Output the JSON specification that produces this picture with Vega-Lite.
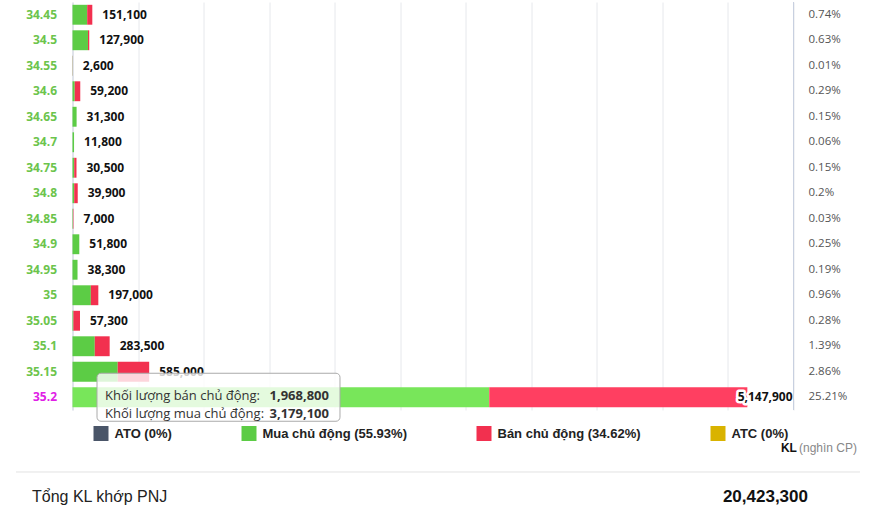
{
  "$schema": "https://vega.github.io/schema/vega-lite/v6.json",
  "background": "white",
  "padding": {"left": 14.5, "top": 1, "right": 0, "bottom": 0},
  "autosize": {"type": "pad"},
  "bounds": "flush",
  "spacing": 11,
  "config": {"view": {"stroke": null}, "font": "Open Sans"},
  "datasets": {
    "rows": [
      {"price": "34.45", "mua": 112100, "ban": 39000, "total": 151100, "pct": 0.0074},
      {"price": "34.5", "mua": 118000, "ban": 9900, "total": 127900, "pct": 0.0063},
      {"price": "34.55", "mua": 1600, "ban": 1000, "total": 2600, "pct": 0.0001},
      {"price": "34.6", "mua": 17000, "ban": 42200, "total": 59200, "pct": 0.0029},
      {"price": "34.65", "mua": 31300, "ban": 0, "total": 31300, "pct": 0.0015},
      {"price": "34.7", "mua": 11800, "ban": 0, "total": 11800, "pct": 0.0006},
      {"price": "34.75", "mua": 13000, "ban": 17500, "total": 30500, "pct": 0.0015},
      {"price": "34.8", "mua": 13000, "ban": 26900, "total": 39900, "pct": 0.002},
      {"price": "34.85", "mua": 3500, "ban": 3500, "total": 7000, "pct": 0.0003},
      {"price": "34.9", "mua": 51800, "ban": 0, "total": 51800, "pct": 0.0025},
      {"price": "34.95", "mua": 38300, "ban": 0, "total": 38300, "pct": 0.0019},
      {"price": "35", "mua": 140000, "ban": 57000, "total": 197000, "pct": 0.0096},
      {"price": "35.05", "mua": 7000, "ban": 50300, "total": 57300, "pct": 0.0028},
      {"price": "35.1", "mua": 170000, "ban": 113500, "total": 283500, "pct": 0.0139},
      {"price": "35.15", "mua": 345000, "ban": 240000, "total": 585000, "pct": 0.0286},
      {"price": "35.2", "mua": 3179100, "ban": 1968800, "total": 5147900, "pct": 0.2521}
    ],
    "tip": [
      {"price": "35.2", "labels": ["Khối lượng bán chủ động:", "Khối lượng mua chủ động:"], "values": ["1,968,800", "3,179,100"]}
    ],
    "footer": [
      {"title": "Tổng KL khớp PNJ", "total": 20423300, "unit": "KL", "unitNote": "(nghìn CP)"}
    ]
  },
  "resolve": {"scale": {"x": "independent", "y": "independent"}},
  "vconcat": [
    {
      "width": 721,
      "height": 408,
      "data": {"name": "rows"},
      "layer": [
        {
          "mark": {"type": "bar", "height": {"band": 0.78}},
          "encoding": {
            "y": {"field": "price", "type": "nominal", "sort": null, "scale": {"paddingInner": 0, "paddingOuter": 0},
              "axis": {"title": null, "ticks": false, "labelPadding": 16, "domainColor": "#cdd4e0", "labelFont": "Open Sans", "labelFontSize": 12, "labelFontWeight": "bold",
                "labelColor": {"condition": {"test": "datum.value === '35.2'", "value": "#e020e6"}, "value": "#6cc44c"}}},
            "x": {"field": "mua", "type": "quantitative", "scale": {"domain": [0, 5500000], "nice": false},
              "axis": {"title": null, "labels": false, "ticks": false, "domain": false, "grid": true, "gridColor": "#e6e8ec",
                "values": [0, 500000, 1000000, 1500000, 2000000, 2500000, 3000000, 3500000, 4000000, 4500000, 5000000, 5500000]}},
            "color": {
              "condition": {"test": "datum.price === '35.2'", "value": "#78e65a"},
              "datum": "Mua chủ động", "type": "nominal",
              "scale": {"domain": ["ATO", "Mua chủ động", "Bán chủ động", "ATC"], "range": ["#4a5568", "#5ccc45", "#f2304f", "#d9b300"]},
              "legend": {
                "orient": "none", "legendX": 21, "legendY": 424, "direction": "horizontal", "title": null,
                "symbolType": "square", "symbolSize": 225, "symbolStrokeWidth": 0, "symbolOpacity": 1,
                "labelFont": "Liberation Sans", "labelFontSize": 13, "labelFontWeight": "bold", "labelColor": "#222",
                "labelOffset": 6, "columnPadding": 69, "labelLimit": 300,
                "labelExpr": "datum.label === 'ATO' ? 'ATO (0%)' : datum.label === 'Mua chủ động' ? 'Mua chủ động (55.93%)' : datum.label === 'Bán chủ động' ? 'Bán chủ động (34.62%)' : 'ATC (0%)'"
              }
            }
          }
        },
        {
          "mark": {"type": "bar", "height": {"band": 0.78}},
          "encoding": {
            "y": {"field": "price", "type": "nominal", "sort": null},
            "x": {"field": "mua", "type": "quantitative"},
            "x2": {"field": "total"},
            "color": {
              "condition": {"test": "datum.price === '35.2'", "value": "#ff3f61"},
              "datum": "Bán chủ động", "type": "nominal"
            }
          }
        },
        {
          "transform": [{"filter": "datum.total < 5000000"}],
          "mark": {"type": "text", "align": "left", "baseline": "middle", "dx": 10, "font": "Open Sans", "fontSize": 12, "fontWeight": "bold", "color": "#111"},
          "encoding": {
            "y": {"field": "price", "type": "nominal", "sort": null},
            "x": {"field": "total", "type": "quantitative"},
            "text": {"field": "total", "type": "quantitative", "format": ","}
          }
        },
        {
          "transform": [{"filter": "datum.total >= 5000000"}],
          "mark": {"type": "text", "align": "right", "baseline": "middle", "dx": -1, "font": "Open Sans", "fontSize": 12, "fontWeight": "bold", "color": "white", "stroke": "white", "strokeWidth": 5, "strokeJoin": "round"},
          "encoding": {
            "y": {"field": "price", "type": "nominal", "sort": null},
            "x": {"datum": 5500000, "type": "quantitative"},
            "text": {"field": "total", "type": "quantitative", "format": ","}
          }
        },
        {
          "transform": [{"filter": "datum.total >= 5000000"}],
          "mark": {"type": "text", "align": "right", "baseline": "middle", "dx": -1, "font": "Open Sans", "fontSize": 12, "fontWeight": "bold", "color": "#111"},
          "encoding": {
            "y": {"field": "price", "type": "nominal", "sort": null},
            "x": {"datum": 5500000, "type": "quantitative"},
            "text": {"field": "total", "type": "quantitative", "format": ","}
          }
        },
        {
          "mark": {"type": "text", "align": "left", "baseline": "middle", "dx": 15, "font": "Open Sans", "fontSize": 11.5, "color": "#555"},
          "encoding": {
            "y": {"field": "price", "type": "nominal", "sort": null},
            "x": {"datum": 5500000, "type": "quantitative"},
            "text": {"field": "pct", "type": "quantitative", "format": ".2~%"}
          }
        },
        {
          "mark": {"type": "rule", "color": "#c8d0e0", "strokeWidth": 1},
          "encoding": {"x": {"datum": 5500000, "type": "quantitative"}}
        },
        {
          "data": {"name": "tip"},
          "mark": {"type": "bar", "height": 48, "fill": "white", "fillOpacity": 0.8, "stroke": "#aaaaaa", "strokeWidth": 1, "cornerRadius": 4},
          "encoding": {
            "y": {"field": "price", "type": "nominal", "sort": null},
            "x": {"datum": 186900, "type": "quantitative"},
            "x2": {"datum": 2040500}
          }
        },
        {
          "data": {"name": "tip"},
          "mark": {"type": "text", "align": "left", "baseline": "middle", "lineHeight": 18, "dy": -1, "font": "Open Sans", "fontSize": 13, "color": "#333"},
          "encoding": {
            "y": {"field": "price", "type": "nominal", "sort": null},
            "x": {"datum": 247900, "type": "quantitative"},
            "text": {"field": "labels"}
          }
        },
        {
          "data": {"name": "tip"},
          "mark": {"type": "text", "align": "right", "baseline": "middle", "lineHeight": 18, "dy": -1, "font": "Open Sans", "fontSize": 13, "fontWeight": "bold", "color": "#333"},
          "encoding": {
            "y": {"field": "price", "type": "nominal", "sort": null},
            "x": {"datum": 1956600, "type": "quantitative"},
            "text": {"field": "values"}
          }
        }
      ]
    },
    {
      "width": 721,
      "height": 96,
      "data": {"name": "footer"},
      "layer": [
        {
          "mark": {"type": "rule", "color": "#e2e2e2", "strokeWidth": 1},
          "encoding": {
            "x": {"datum": -0.0784, "type": "quantitative", "scale": {"domain": [0, 1], "nice": false, "zero": false}, "axis": null},
            "x2": {"datum": 1.0922},
            "y": {"datum": 0.531, "type": "quantitative", "scale": {"domain": [0, 1], "reverse": true, "nice": false, "zero": false}, "axis": null}
          }
        },
        {
          "mark": {"type": "text", "align": "left", "baseline": "middle", "font": "Liberation Sans", "fontSize": 12, "fontWeight": "bold", "color": "#111"},
          "encoding": {
            "x": {"datum": 0.9826, "type": "quantitative"},
            "y": {"datum": 0.281, "type": "quantitative"},
            "text": {"field": "unit"}
          }
        },
        {
          "mark": {"type": "text", "align": "left", "baseline": "middle", "font": "Liberation Sans", "fontSize": 12, "color": "#888"},
          "encoding": {
            "x": {"datum": 1.0076, "type": "quantitative"},
            "y": {"datum": 0.281, "type": "quantitative"},
            "text": {"field": "unitNote"}
          }
        },
        {
          "mark": {"type": "text", "align": "left", "baseline": "middle", "font": "Liberation Sans", "fontSize": 16, "color": "#222"},
          "encoding": {
            "x": {"datum": -0.0562, "type": "quantitative"},
            "y": {"datum": 0.792, "type": "quantitative"},
            "text": {"field": "title"}
          }
        },
        {
          "mark": {"type": "text", "align": "right", "baseline": "middle", "font": "Liberation Sans", "fontSize": 17, "fontWeight": "bold", "color": "#111"},
          "encoding": {
            "x": {"datum": 1.0201, "type": "quantitative"},
            "y": {"datum": 0.792, "type": "quantitative"},
            "text": {"field": "total", "type": "quantitative", "format": ","}
          }
        }
      ]
    }
  ]
}
